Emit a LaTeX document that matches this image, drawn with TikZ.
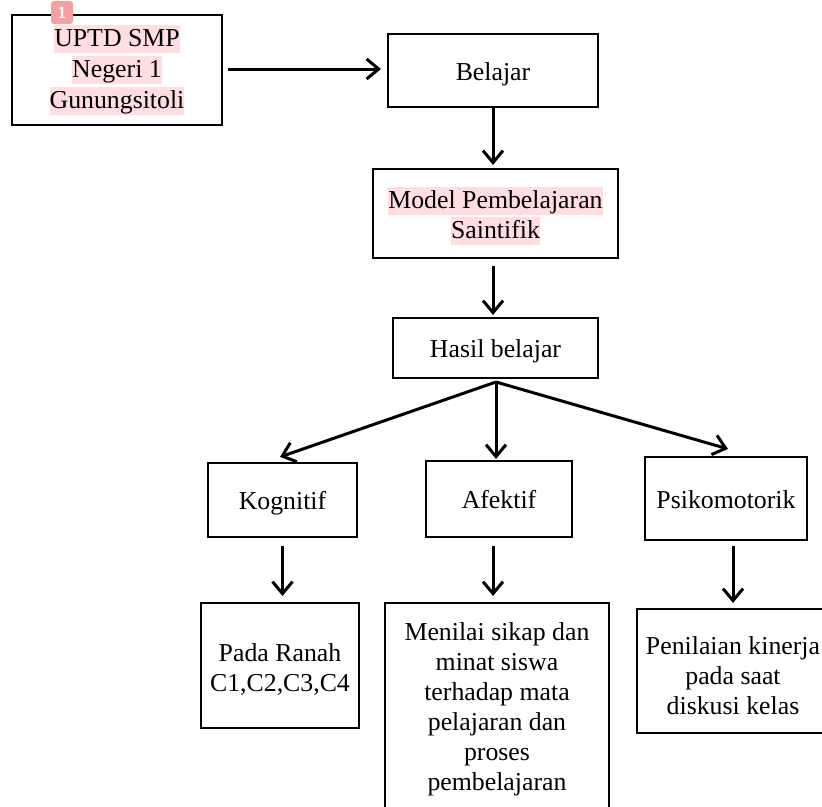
\documentclass[tikz,border=0pt]{standalone}
\usepackage{fontspec}
\setmainfont{Liberation Serif}
\usetikzlibrary{arrows.meta}
\definecolor{hlpink}{RGB}{255,221,224}
\definecolor{badgered}{RGB}{245,160,160}
\newcommand\hl[1]{{\setlength\fboxsep{0pt}\colorbox{hlpink}{\rule[-0.27em]{0pt}{1.09em}#1}}}
\newcommand\topup[1]{\rule{0pt}{#1pt}}
\begin{document}
\begin{tikzpicture}[x=1pt,y=-1pt,
  box/.style={draw, line width=2.1pt, inner sep=0pt, align=center,
    font=\fontsize{25.8}{30}\selectfont},
  one/.style={text height=19pt, text depth=0pt},
  arr/.style={line width=3pt, -{Straight Barb[length=12pt,width=20pt,line width=3pt]}}]
\useasboundingbox (0,0) rectangle (822,806);
\node[box, minimum width=210pt, minimum height=110pt] (uptd) at (117,70)
  {\hl{UPTD SMP}\\[1pt]\hl{Negeri 1}\\[1pt]\hl{Gunungsitoli}};
\node[box, one, minimum width=210pt, minimum height=73pt] (bel) at (493,70.5) {Belajar};
\node[box, minimum width=245pt, minimum height=89pt] (mod) at (495.5,213.5)
  {\topup{26}\hl{Model Pembelajaran}\\\hl{Saintifik}};
\node[box, one, minimum width=205pt, minimum height=60pt] (has) at (495.5,348) {Hasil belajar};
\node[box, one, minimum width=149pt, minimum height=74pt] (kog) at (282.5,500) {Kognitif};
\node[box, one, minimum width=146pt, minimum height=76pt] (afe) at (499,499) {Afektif};
\node[box, one, minimum width=162pt, minimum height=83pt] (psi) at (726,498.5) {Psikomotorik};
\node[box, minimum width=158pt, minimum height=125pt] (pad) at (280,665.5)
  {\topup{25.6}Pada Ranah\\C1,C2,C3,C4};
\node[box, minimum width=224pt, minimum height=208pt] (men) at (497,707)
  {\topup{22.6}Menilai sikap dan\\minat siswa\\terhadap mata\\pelajaran dan\\proses\\pembelajaran};
\node[box, minimum width=192pt, minimum height=124pt] (pen) at (733,671)
  {\topup{26.6}Penilaian kinerja\\pada saat\\diskusi kelas};
% badge
\node[fill=badgered, rounded corners=3pt, minimum width=22pt, minimum height=23pt,
  inner sep=0pt, text=white, font=\sffamily\bfseries\fontsize{16}{16}\selectfont]
  (badge) at (62,12.5) {1};
% arrows
\draw[arr] ([xshift=5pt,yshift=1pt]uptd.east) -- ([xshift=-6pt,yshift=1.5pt]bel.west);
\draw[arr] (bel.south) -- ([xshift=-2.5pt,yshift=3pt]mod.north);
\draw[arr] ([xshift=-2.5pt,yshift=-7pt]mod.south) -- ([xshift=-2.5pt,yshift=2pt]has.north);
\coordinate (split) at (496,382);
\draw[arr] (split) -- ([xshift=-2.5pt,yshift=5pt]kog.north);
\draw[arr] (split) -- ([xshift=-3pt,yshift=1pt]afe.north);
\draw[arr] (split) -- ([xshift=2pt,yshift=7pt]psi.north);
\draw[arr] ([yshift=-8pt]kog.south) -- ([xshift=2.5pt,yshift=6pt]pad.north);
\draw[arr] ([xshift=-6pt,yshift=-8pt]afe.south) -- ([xshift=-4pt,yshift=6pt]men.north);
\draw[arr] ([xshift=7pt,yshift=-5pt]psi.south) -- ([yshift=5pt]pen.north);
\end{tikzpicture}
\end{document}
